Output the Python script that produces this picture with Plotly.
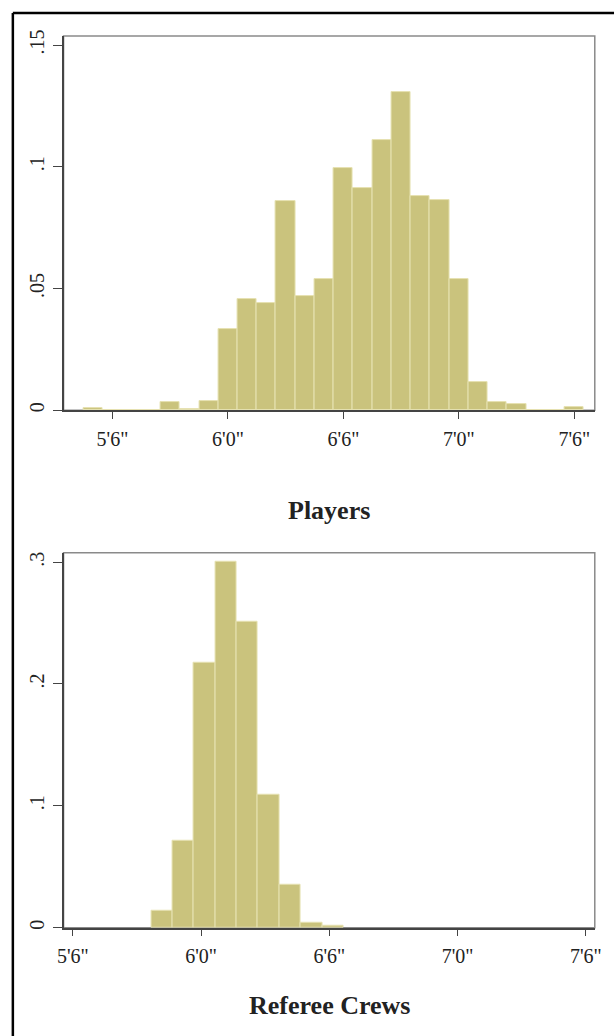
import plotly.graph_objects as go

# ---- data ----
player_bin_centers = [65, 66, 67, 68, 69, 70, 71, 72, 73, 74, 75, 76, 77, 78, 79, 80,
                      81, 82, 83, 84, 85, 86, 87, 88, 89, 90]
player_density = [0.0010, 0, 0, 0, 0.0033, 0.0007, 0.0039, 0.0333, 0.0456, 0.0441,
                  0.0859, 0.0471, 0.0541, 0.0994, 0.0913, 0.1111, 0.1308, 0.0881,
                  0.0863, 0.0539, 0.0117, 0.0035, 0.0026, 0, 0, 0.0013]

referee_bin_centers = [70.16, 71.16, 72.16, 73.16, 74.16, 75.16, 76.16, 77.16, 78.16]
referee_density = [0.0136, 0.0717, 0.2172, 0.3000, 0.2510, 0.1089, 0.0353, 0.0044, 0.0014]

x_tick_vals = [66, 72, 78, 84, 90]
x_tick_text = ['5\'6"', '6\'0"', '6\'6"', '7\'0"', '7\'6"']
player_y_ticks = [0, 0.05, 0.10, 0.15]
player_y_text = ["0", ".05", ".1", ".15"]
referee_y_ticks = [0, 0.1, 0.2, 0.3]
referee_y_text = ["0", ".1", ".2", ".3"]
titles = ["Players", "Referee Crews"]

# ---- style ----
W, H = 615, 1036
FONT = "Liberation Serif, Times New Roman, serif"
FILL = "#CAC37D"
EDGE = "#E6E2B2"

def px_x(v):
    return v / W

def px_y(v):
    return 1 - v / H

fig = go.Figure()
fig.add_trace(go.Bar(x=player_bin_centers, y=player_density, width=1,
                     marker=dict(color=FILL, line=dict(color=EDGE, width=1)),
                     xaxis="x", yaxis="y", showlegend=False, hoverinfo="skip"))
fig.add_trace(go.Bar(x=referee_bin_centers, y=referee_density, width=1,
                     marker=dict(color=FILL, line=dict(color=EDGE, width=1)),
                     xaxis="x2", yaxis="y2", showlegend=False, hoverinfo="skip"))

xdom = [px_x(58.8), px_x(601.5)]
axis_common = dict(showgrid=False, zeroline=False, showline=True, linecolor="#444444",
                   linewidth=1.5, ticks="outside", tickcolor="#444444", tickwidth=1.2,
                   tickfont=dict(family=FONT, size=20, color="#222222"))

fig.update_layout(
    width=W, height=H,
    margin=dict(l=0, r=0, t=0, b=0),
    paper_bgcolor="white", plot_bgcolor="white",
    bargap=0,
    xaxis=dict(domain=xdom, anchor="y", range=[63.46, 91.06], tickvals=x_tick_vals,
               ticktext=x_tick_text, ticklen=7, ticklabelstandoff=3, **axis_common),
    yaxis=dict(domain=[px_y(407.5), px_y(30.3)], anchor="x", range=[0, 0.1537],
               tickvals=player_y_ticks, ticktext=player_y_text, tickangle=-90,
               ticklen=9, ticklabelstandoff=1, **axis_common),
    xaxis2=dict(domain=xdom, anchor="y2", range=[65.565, 90.42], tickvals=x_tick_vals,
                ticktext=x_tick_text, ticklen=7, ticklabelstandoff=3, **axis_common),
    yaxis2=dict(domain=[px_y(928.8), px_y(551)], anchor="x2", range=[0, 0.3077],
                tickvals=referee_y_ticks, ticktext=referee_y_text, tickangle=-90,
                ticklen=9, ticklabelstandoff=1, **axis_common),
)

# plot boxes (gray) behind axis lines
for xr, yr in (("x domain", "y domain"), ("x2 domain", "y2 domain")):
    fig.add_shape(type="rect", xref=xr, yref=yr, x0=0, x1=1, y0=0, y1=1,
                  line=dict(color="#8a8a8a", width=1.5), layer="below")

# outer frame (top and left edges visible)
fig.add_shape(type="line", xref="paper", yref="paper", x0=px_x(7), x1=1.01,
              y0=px_y(7), y1=px_y(7), line=dict(color="black", width=2.5))
fig.add_shape(type="line", xref="paper", yref="paper", x0=px_x(7), x1=px_x(7),
              y0=-0.01, y1=px_y(7), line=dict(color="black", width=2.5))

# panel titles
for text, yc in zip(titles, (508, 1007.5)):
    fig.add_annotation(text=f"<b>{text}</b>", xref="paper", yref="paper",
                       x=(xdom[0] + xdom[1]) / 2, y=px_y(yc), xanchor="center",
                       yanchor="middle", showarrow=False,
                       font=dict(family=FONT, size=26, color="#222222"))

fig.write_html("out.html", config={"displayModeBar": False},
               post_script="document.body.style.margin='0';document.body.style.overflow='hidden';")
